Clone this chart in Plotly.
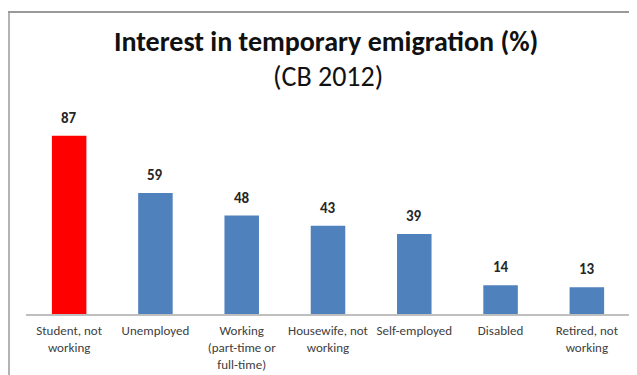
import plotly.graph_objects as go

categories = ["Student, not<br>working", "Unemployed", "Working<br>(part-time or<br>full-time)",
              "Housewife, not<br>working", "Self-employed", "Disabled", "Retired, not<br>working"]
values = [87, 59, 48, 43, 39, 14, 13]
colors = ["#FF0000"] + ["#4F81BD"] * 6
title_text = "Interest in temporary emigration (%)"
subtitle_text = "(CB 2012)"

# page body has an 8px margin; positions below are in figure coordinates
W, H = 637, 375
ml, mr, mt, mb = 18, 15, 92, 69
pw, ph = W - ml - mr, H - mt - mb
FONT = "Carlito, Calibri, Liberation Sans, Arial"

fig = go.Figure(go.Bar(
    x=categories, y=values, marker=dict(color=colors, line=dict(width=0)),
    width=0.4, cliponaxis=False,
))

def px_x(x):
    return (x - ml) / pw

def px_y(y):
    return (H - mb - y) / ph

annotations = [
    dict(text=f"<b>{title_text}</b>", xref="paper", yref="paper", x=px_x(318), y=px_y(33),
         xanchor="center", yanchor="middle", showarrow=False,
         font=dict(family=FONT, size=28, color="#111111")),
    dict(text=subtitle_text, xref="paper", yref="paper", x=px_x(320), y=px_y(68),
         xanchor="center", yanchor="middle", showarrow=False,
         font=dict(family=FONT, size=28, color="#111111")),
]
for c, v in zip(categories, values):
    annotations.append(dict(text=f"<b>{v}</b>", x=c, y=v, xref="x", yref="y",
                            xanchor="center", yanchor="bottom", yshift=7, showarrow=False,
                            font=dict(family=FONT, size=15, color="#262626")))

fig.update_layout(
    width=W, height=H, margin=dict(l=ml, r=mr, t=mt, b=mb),
    plot_bgcolor="white", paper_bgcolor="white", showlegend=False,
    annotations=annotations,
    xaxis=dict(showline=True, linecolor="#BFBFBF", linewidth=1.5, ticks="", automargin=False,
               tickfont=dict(family=FONT, size=13, color="#404040"),
               ticklabelstandoff=4, tickangle=0),
    yaxis=dict(range=[0, ph / 2.05], visible=False, showgrid=False, automargin=False),
    shapes=[
        dict(type="line", xref="paper", yref="paper", x0=px_x(0), x1=px_x(640), y0=px_y(4), y1=px_y(4),
             line=dict(color="#9A9A9A", width=2), layer="above"),
        dict(type="line", xref="paper", yref="paper", x0=px_x(1), x1=px_x(1), y0=px_y(3), y1=px_y(380),
             line=dict(color="#9A9A9A", width=1.5), layer="above"),
    ],
)

fig.write_html("out.html", config={"displayModeBar": False})
